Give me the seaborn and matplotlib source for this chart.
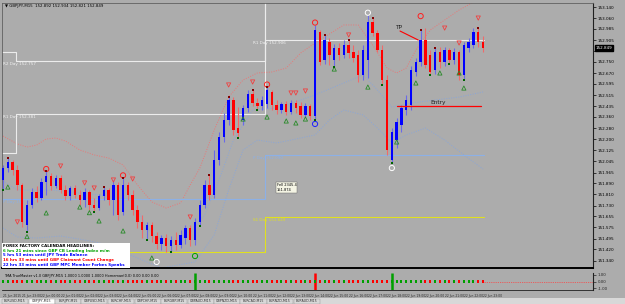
import numpy as np
import pandas as pd
import matplotlib
matplotlib.use("Agg")
import matplotlib.pyplot as plt
import matplotlib.transforms as mtrans
import seaborn as sns

sns.set_style("white")
plt.rcParams['font.family'] = ['DejaVu Sans']

# ---------------- data ----------------
opens = [151.912, 151.997, 152.040, 151.983, 151.877, 151.593, 151.735, 151.827, 151.784, 151.898,
         151.940, 151.869, 151.926, 151.841, 151.798, 151.855, 151.806, 151.770, 151.827, 151.735,
         151.713, 151.798, 151.841, 151.770, 151.877, 151.685, 151.877, 151.806, 151.699, 151.614,
         151.557, 151.593, 151.514, 151.458, 151.500, 151.444, 151.486, 151.451, 151.500, 151.571,
         151.486, 151.614, 151.735, 151.877, 151.806, 152.054, 152.217, 152.338, 152.480, 152.281,
         152.338, 152.423, 152.523, 152.459, 152.437, 152.452, 152.537, 152.445, 152.409, 152.452,
         152.395, 152.459, 152.437, 152.374, 152.437, 152.366, 152.963, 152.764, 152.892, 152.764,
         152.849, 152.800, 152.871, 152.821, 152.800, 152.658, 152.764, 153.034, 152.956, 152.835,
         152.622, 152.054, 152.196, 152.303, 152.409, 152.445, 152.679, 152.750, 152.906, 152.800,
         152.693, 152.821, 152.750, 152.835, 152.764, 152.821, 152.658, 152.849, 152.871, 152.963,
         152.892]
highs = [152.019, 152.068, 152.054, 152.019, 151.891, 151.770, 151.855, 151.869, 151.926, 151.976,
         151.962, 151.948, 151.948, 151.877, 151.869, 151.877, 151.841, 151.855, 151.841, 151.784,
         151.813, 151.862, 151.855, 151.912, 151.898, 151.926, 151.898, 151.841, 151.735, 151.664,
         151.614, 151.614, 151.543, 151.522, 151.529, 151.514, 151.543, 151.557, 151.593, 151.593,
         151.642, 151.770, 151.912, 151.948, 152.125, 152.253, 152.388, 152.501, 152.501, 152.430,
         152.445, 152.551, 152.551, 152.494, 152.508, 152.572, 152.551, 152.480, 152.466, 152.473,
         152.480, 152.480, 152.466, 152.459, 152.452, 153.013, 152.977, 152.942, 152.920, 152.878,
         152.885, 152.906, 152.906, 152.871, 152.835, 152.871, 153.084, 153.062, 152.977, 152.871,
         152.658, 152.281, 152.352, 152.445, 152.516, 152.721, 152.778, 152.977, 152.991, 152.835,
         152.849, 152.856, 152.856, 152.849, 152.849, 152.835, 152.892, 152.920, 152.991, 152.991,
         152.934]
lows = [151.841, 151.969, 151.948, 151.841, 151.578, 151.543, 151.713, 151.756, 151.770, 151.806,
        151.841, 151.855, 151.820, 151.770, 151.770, 151.784, 151.735, 151.720, 151.699, 151.685,
        151.699, 151.770, 151.735, 151.664, 151.628, 151.664, 151.770, 151.664, 151.571, 151.500,
        151.486, 151.472, 151.422, 151.415, 151.401, 151.401, 151.415, 151.429, 151.458, 151.444,
        151.451, 151.585, 151.713, 151.770, 151.784, 152.019, 152.182, 152.303, 152.232, 152.210,
        152.303, 152.395, 152.437, 152.409, 152.409, 152.423, 152.409, 152.381, 152.388, 152.374,
        152.381, 152.388, 152.352, 152.359, 152.338, 152.338, 152.729, 152.736, 152.729, 152.714,
        152.764, 152.778, 152.778, 152.750, 152.608, 152.622, 152.636, 152.934, 152.821, 152.587,
        152.090, 152.033, 152.139, 152.253, 152.374, 152.409, 152.650, 152.721, 152.707, 152.658,
        152.665, 152.707, 152.721, 152.736, 152.736, 152.622, 152.622, 152.821, 152.849, 152.856,
        152.821]
closes = [151.997, 152.040, 151.983, 151.877, 151.614, 151.735, 151.827, 151.784, 151.898, 151.940,
          151.869, 151.926, 151.841, 151.798, 151.855, 151.806, 151.770, 151.827, 151.735, 151.713,
          151.798, 151.841, 151.770, 151.877, 151.664, 151.877, 151.806, 151.699, 151.614, 151.557,
          151.593, 151.514, 151.458, 151.500, 151.444, 151.486, 151.451, 151.522, 151.571, 151.486,
          151.614, 151.735, 151.877, 151.806, 152.054, 152.217, 152.338, 152.480, 152.267, 152.246,
          152.423, 152.523, 152.459, 152.437, 152.480, 152.551, 152.445, 152.409, 152.452, 152.395,
          152.459, 152.423, 152.374, 152.437, 152.366, 152.977, 152.750, 152.906, 152.800, 152.849,
          152.800, 152.871, 152.814, 152.778, 152.658, 152.835, 153.034, 152.956, 152.835, 152.622,
          152.125, 152.253, 152.324, 152.423, 152.480, 152.693, 152.750, 152.906, 152.729, 152.679,
          152.821, 152.750, 152.835, 152.764, 152.821, 152.658, 152.871, 152.892, 152.963, 152.892,
          152.849]

# TMA bands (bar index, price)
upper_idx = [0, 3, 5, 7, 9, 11, 13, 16, 19, 22, 25, 28, 31, 34, 37, 39, 41, 44, 47, 50, 53, 56,
             59, 62, 65, 68, 71, 74, 77, 80, 82, 84, 86, 89, 92, 95, 98, 100]
upper_px = [152.224, 152.168, 152.146, 152.160, 152.203, 152.210, 152.189, 152.125, 152.090,
            152.068, 152.019, 151.877, 151.756, 151.713, 151.749, 151.877, 151.997, 152.267,
            152.501, 152.622, 152.672, 152.679, 152.707, 152.814, 152.885, 152.949, 153.013,
            153.013, 152.871, 152.707, 152.672, 152.707, 152.835, 152.977, 153.048, 153.119,
            153.176, 153.218]
mid_idx = [0, 3, 10, 20, 27, 30, 34, 38, 42, 45, 48, 52, 57, 62, 65, 70, 75, 78, 81, 85, 90, 95, 100]
mid_px = [151.905, 151.841, 151.841, 151.806, 151.770, 151.571, 151.451, 151.500, 151.664,
          151.912, 152.196, 152.409, 152.423, 152.480, 152.516, 152.587, 152.658, 152.551,
          152.430, 152.459, 152.480, 152.501, 152.537]
lower_idx = [0, 3, 7, 12, 17, 22, 28, 33, 40, 44, 47, 50, 53, 57, 61, 65, 68, 71, 75, 78, 81, 84,
             88, 92, 96, 100]
lower_px = [151.571, 151.507, 151.500, 151.514, 151.486, 151.451, 151.358, 151.287, 151.330,
            151.522, 151.841, 152.125, 152.196, 152.175, 152.203, 152.232, 152.338, 152.409,
            152.374, 152.281, 152.175, 152.232, 152.281, 152.196, 152.090, 151.990]

# daily pivot levels: day start/end bar index and levels
day_start = [-1.0, 2.7, 54.6]
day_end = [2.7, 54.6, 100.2]
r2_day = [152.821, 152.757, 153.300]
r1_day = [152.104, 152.381, 152.906]
p_day = [151.777, 151.777, 152.090]
s1_day = [151.401, 151.401, 151.649]

# signal markers (bar index, price)
sell_idx = [3, 12, 17, 19, 23, 27, 39, 47, 52, 60, 61, 63, 72, 92, 95, 99]
sell_px = [151.614, 152.011, 151.891, 151.855, 151.912, 151.919, 151.649, 152.587, 152.608,
           152.530, 152.530, 152.544, 152.942, 152.991, 152.885, 153.062]
buy_idx = [1, 5, 9, 16, 18, 20, 25, 31, 50, 55, 59, 61, 63, 69, 76, 82, 86, 91, 95, 96]
buy_px = [151.862, 151.510, 151.678, 151.720, 151.680, 151.621, 151.550, 151.358, 152.345,
          152.359, 152.331, 152.317, 152.345, 152.700, 152.572, 152.182, 152.601, 152.672,
          152.672, 152.565]
redcirc_idx = [9, 25, 55, 65, 87]
redcirc_px = [151.990, 151.945, 152.590, 153.030, 153.076]
whitecirc_idx = [76, 81, 32]
whitecirc_px = [153.100, 151.997, 151.330]
bluecirc_idx = [65]
bluecirc_px = [152.310]
greencirc_idx = [40]
greencirc_px = [151.372]
fr_hi_idx = [1, 9, 21, 25, 43, 47, 52, 55, 67, 72, 77, 87, 90, 99]
fr_hi_px = [152.068, 151.976, 151.862, 151.926, 151.948, 152.501, 152.551, 152.572, 152.942,
            152.906, 153.062, 152.977, 152.849, 152.991]
fr_lo_idx = [0, 5, 19, 30, 35, 41, 49, 53, 65, 69, 79, 81, 89, 93, 96]
fr_lo_px = [151.841, 151.543, 151.685, 151.486, 151.401, 151.585, 152.210, 152.409, 152.338,
            152.714, 152.587, 152.033, 152.658, 152.736, 152.622]

# trade annotations
entry_price = 152.437
entry_from, entry_to = 82, 99.6
tp_line_idx = [82.7, 86.5]
tp_line_px = [152.970, 152.906]

# indicator sub-window vertical signals
sig_idx = [40, 65, 81]
sig_col = ['#00a000', '#ff0000', '#00a000']

y_ticks = [153.140, 153.060, 152.985, 152.905, 152.830, 152.750, 152.670, 152.595, 152.515,
           152.435, 152.360, 152.280, 152.200, 152.125, 152.045, 151.965, 151.890, 151.810,
           151.730, 151.655, 151.575, 151.495, 151.420, 151.340]

time_idx = [0, 4, 8, 12, 16, 20, 24, 28, 32, 36, 40, 44, 48, 52, 56, 60, 64, 68, 72, 76, 80,
            84, 88, 92, 96, 100]
time_labels = ["21 Jun 2015", "21 Jun 23:00", "22 Jun 00:00", "22 Jun 01:00", "22 Jun 02:00",
               "22 Jun 03:00", "22 Jun 04:00", "22 Jun 05:00", "22 Jun 06:00", "22 Jun 07:00",
               "22 Jun 08:00", "22 Jun 09:00", "22 Jun 10:00", "22 Jun 11:00", "22 Jun 12:00",
               "22 Jun 13:00", "22 Jun 14:00", "22 Jun 15:00", "22 Jun 16:00", "22 Jun 17:00",
               "22 Jun 18:00", "22 Jun 19:00", "22 Jun 20:00", "22 Jun 21:00", "22 Jun 22:00",
               "22 Jun 23:00"]

tabs = ["EURUSD,M15", "GBPJPY,M15", "EURJPY,M15", "GBPUSD,M15", "EURCHF,M15", "GBPCHF,M15",
        "EURGBP,M15", "GBPAUD,M15", "GBPNZD,M15", "EURCAD,M15", "EURNZD,M15", "EURAUD,M15"]

news_lines = ["FOREX FACTORY CALENDAR HEADLINES:",
              "6 hrs 21 mins since GBP CB Leading Index m/m",
              "5 hrs 53 mins until JPY Trade Balance",
              "16 hrs 33 mins until GBP Claimant Count Change",
              "22 hrs 33 mins until GBP MPC Member Forbes Speaks"]
news_colors = ['black', '#00a000', '#0000ff', '#ff0000', '#0000ff']

# ---------------- figure ----------------
W, H = 625, 304
BG = '#acacac'
fig = plt.figure(figsize=(W / 100, H / 100), dpi=100)
fig.patch.set_facecolor(BG)

ax = fig.add_axes([2 / W, 1 - 268 / H, 591 / W, 265 / H])
sub = fig.add_axes([2 / W, 1 - 290 / H, 591 / W, 17 / H])
for a in (ax, sub):
    a.set_facecolor(BG)
    a.set_xlim(-0.21, 122.9)
ax.set_ylim(151.287, 153.169)

n = len(opens)
idx = np.arange(n)
df = pd.DataFrame({'i': idx, 'o': opens, 'h': highs, 'l': lows, 'c': closes})
bull = df['c'] >= df['o']

# bands
sns.lineplot(x=upper_idx, y=upper_px, ax=ax, color='#e87878', lw=0.7, linestyle=(0, (1, 1.5)))
sns.lineplot(x=mid_idx, y=mid_px, ax=ax, color='#8aa6d8', lw=0.7, linestyle=(0, (1, 1.5)))
sns.lineplot(x=lower_idx, y=lower_px, ax=ax, color='#8aa6d8', lw=0.7, linestyle=(0, (1, 1.5)))


def step_line(levels, color):
    xs, ys = [], []
    for s, e, v in zip(day_start, day_end, levels):
        xs += [s, e]
        ys += [v, v]
    ax.plot(xs, ys, color=color, lw=0.8)


step_line(r2_day, '#ececec')
step_line(r1_day, '#ececec')
step_line(p_day, '#8cb0e6')
step_line(s1_day, '#e0e020')
ax.plot([day_start[2], day_start[2]], [r2_day[1], 153.3], color='#ececec', lw=0.8)

lab_kw = dict(fontsize=3.0, va='top', ha='left')
ax.text(0, r2_day[1] - 0.01, f"R2 Day {r2_day[1]:.3f}", color='#f0f0f0', **lab_kw)
ax.text(0, r1_day[1] - 0.01, f"R1 Day {r1_day[1]:.3f}", color='#f0f0f0', **lab_kw)
ax.text(0, p_day[1] - 0.01, f"P Day {p_day[1]:.3f}", color='#8cb0e6', **lab_kw)
ax.text(52, r1_day[2] - 0.01, f"R1 Day {r1_day[2]:.3f}", color='#f0f0f0', **lab_kw)
ax.text(52, p_day[2] - 0.01, f"P Day {p_day[2]:.3f}", color='#8cb0e6', **lab_kw)
ax.text(52, s1_day[2] - 0.01, f"S1 Day {s1_day[2]:.3f}", color='#e0e020', **lab_kw)

# candles
wick_col = np.where(bull, '#6a6ae8', '#f06a6a')
body_col = np.where(bull, '#0000ff', '#ff0000')
ax.vlines(df['i'], df['l'], df['h'], colors=wick_col, lw=0.8, zorder=3)
ax.bar(df['i'], (df['c'] - df['o']).where((df['c'] - df['o']).abs() > 0.003, 0.003),
       bottom=df['o'], width=0.5, color=body_col, lw=0, zorder=4)

# markers
sns.scatterplot(x=sell_idx, y=sell_px, ax=ax, marker='v', s=9, facecolor='none',
                edgecolor='#f04040', linewidth=0.6, zorder=5)
sns.scatterplot(x=buy_idx, y=buy_px, ax=ax, marker='^', s=9, facecolor='none',
                edgecolor='#2a8a2a', linewidth=0.6, zorder=5)
sns.scatterplot(x=redcirc_idx, y=redcirc_px, ax=ax, marker='o', s=14, facecolor='none',
                edgecolor='#ff2020', linewidth=0.7, zorder=5)
sns.scatterplot(x=whitecirc_idx, y=whitecirc_px, ax=ax, marker='o', s=14, facecolor='none',
                edgecolor='white', linewidth=0.7, zorder=5)
sns.scatterplot(x=bluecirc_idx, y=bluecirc_px, ax=ax, marker='o', s=14, facecolor='none',
                edgecolor='#2020ff', linewidth=0.7, zorder=5)
sns.scatterplot(x=greencirc_idx, y=greencirc_px, ax=ax, marker='o', s=14, facecolor='none',
                edgecolor='#00a000', linewidth=0.7, zorder=5)
sns.scatterplot(x=fr_hi_idx, y=fr_hi_px, ax=ax, marker='s', s=4, color='#800000',
                linewidth=0, zorder=6)
sns.scatterplot(x=fr_lo_idx, y=fr_lo_px, ax=ax, marker='s', s=4, color='#006400',
                linewidth=0, zorder=6)

# trade annotations
ax.plot([entry_from, entry_to], [entry_price, entry_price], color='#ff0000', lw=0.9, zorder=6)
ax.text(90.6, entry_price + 0.01, "Entry", fontsize=4.2, color='#202020', ha='center', va='bottom')
ax.plot(tp_line_idx, tp_line_px, color='#ff0000', lw=0.8, zorder=6)
ax.text(82.3, 152.975, "TP", fontsize=4.2, color='#202020', ha='center', va='bottom')
ax.text(57, 151.890, "Fell 2345.4\n151.874", fontsize=2.6, color='black', va='top', ha='left',
        bbox=dict(boxstyle='square,pad=0.3', fc='#f4f4e4', ec='#606060', lw=0.3), zorder=7)

# news box
ax.add_patch(plt.Rectangle((-0.21, 151.287), 26.6, 0.175, fc='white', ec='none', zorder=8))
for k, (t, c) in enumerate(zip(news_lines, news_colors)):
    ax.text(0.0, 151.458 - k * 0.034, t, fontsize=2.9, color=c, va='top', ha='left',
            fontweight='bold', zorder=9)

# header
ax.text(0.005, 0.997, "▼ GBPJPY,M15  152.892 152.934 152.821 152.849", transform=ax.transAxes,
        fontsize=2.8, va='top', ha='left', color='black')

# y axis
ax.yaxis.tick_right()
ax.set_yticks(y_ticks)
ax.set_yticklabels([f"{v:.3f}" for v in y_ticks], fontsize=3.0, color='black')
ax.tick_params(axis='y', length=2, width=0.5, pad=1.5, colors='black')
ax.set_xticks([])
tr = mtrans.blended_transform_factory(ax.transAxes, ax.transData)
ax.text(1.004, closes[-1], f"{closes[-1]:.3f}", transform=tr, fontsize=3.0, color='white',
        va='center', ha='left', bbox=dict(boxstyle='square,pad=0.15', fc='black', ec='black'))
for s in ['top', 'left']:
    ax.spines[s].set_color('#606060')
    ax.spines[s].set_linewidth(0.6)
ax.spines['right'].set_color('#202020')
ax.spines['right'].set_linewidth(0.8)
ax.spines['bottom'].set_color('black')
ax.spines['bottom'].set_linewidth(1.4)

# sub window
sub.set_ylim(-1.3, 1.3)
dot_col = np.where(bull, '#00a000', '#ff0000')
sub.scatter(idx, np.zeros(n), marker='s', s=2.2, c=dot_col, linewidths=0, zorder=3)
sub.plot([n - 1, 123], [0, 0], color='#ff4040', lw=0.6, linestyle=(0, (1, 1.2)))
sub.vlines(sig_idx, -1.3, 1.3, colors=sig_col, lw=1.8)
sub.text(0.3, 1.2, "TMA TrueMaster v1.0 GBPJPY,M15 1.0000 1.0000 1.0000 Homeman(0.0) 0.00 0.00 0.00",
         fontsize=2.5, va='top', ha='left', color='black')
sub.yaxis.tick_right()
sub.set_yticks([1, 0, -1])
sub.set_yticklabels(["1.00", "0.00", "-1.00"], fontsize=2.8)
sub.tick_params(axis='y', length=2, width=0.5, pad=1.5)
sub.set_xticks(time_idx)
sub.set_xticklabels(time_labels, fontsize=2.2, ha='left')
sub.tick_params(axis='x', length=2, width=0.5, pad=1.0)
for s in ['top', 'left']:
    sub.spines[s].set_visible(False)
sub.spines['right'].set_color('#202020')
sub.spines['bottom'].set_color('#202020')
sub.spines['bottom'].set_linewidth(0.6)

# tab bar
fig.patches.append(plt.Rectangle((0, 0), 1, 6 / H, transform=fig.transFigure,
                                 fc='#d8d8d8', ec='none', zorder=0))
for k, t in enumerate(tabs):
    x0 = (2 + k * 26.5) / W
    fc = 'white' if k == 1 else '#d8d8d8'
    fig.patches.append(plt.Rectangle((x0, 0), 26 / W, 5.5 / H, transform=fig.transFigure,
                                     fc=fc, ec='#909090', lw=0.3))
    fig.text(x0 + 13 / W, 2.7 / H, t, fontsize=2.3, ha='center', va='center', color='#303030')

fig.savefig("out.png", dpi=100, facecolor=fig.get_facecolor())
